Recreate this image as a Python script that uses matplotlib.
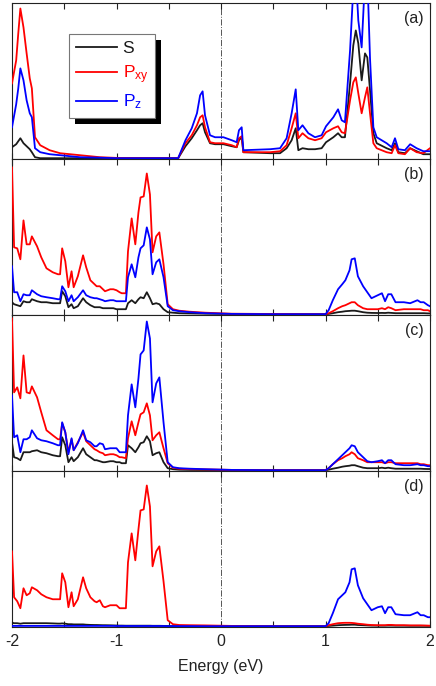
import matplotlib
matplotlib.use("Agg")
import matplotlib.pyplot as plt
from matplotlib.ticker import MultipleLocator, FixedLocator
from matplotlib.lines import Line2D
from matplotlib.patches import Rectangle

plt.rcParams['font.family'] = ['Liberation Sans', 'DejaVu Sans']
plt.rcParams['axes.unicode_minus'] = False
plt.rcParams['mathtext.default'] = 'regular'

# ---------------- data (arbitrary DOS units) ----------------
labels = ['S', r'P$_{xy}$', r'P$_{z}$']
colors = ['#1a1a1a', '#ff0000', '#0000ff']
panel_tags = ['(a)', '(b)', '(c)', '(d)']
x_ticks = [-2, -1, 0, 1, 2]

# panel (a)
energy_a = [-2.00, -1.96, -1.94, -1.92, -1.89, -1.86, -1.83, -1.81, -1.78, -1.73,
            -1.64, -1.54, -1.35, -1.16, -1.00, -0.41, -0.34, -0.28, -0.23, -0.20,
            -0.176, -0.153, -0.105, -0.057, 0.023, 0.103, 0.15, 0.172, 0.198, 0.214,
            0.47, 0.565, 0.628, 0.676, 0.715, 0.74, 0.78, 0.836, 0.90, 0.963,
            1.005, 1.075, 1.12, 1.155, 1.186, 1.235, 1.266, 1.29, 1.314, 1.346,
            1.378, 1.40, 1.426, 1.458, 1.49, 1.585, 1.633, 1.665, 1.697, 1.76,
            1.81, 1.872, 1.936, 2.00]
a_s = [11, 14, 17, 20, 15, 12, 9, 6, 1, 0,
       0, 0, 0, 0, 0, 0, 12, 20, 28, 33,
       35, 26, 15, 14, 14, 12, 11, 18, 21, 6,
       5, 5, 10, 18, 30, 8, 10, 9, 9, 10,
       16, 21, 25, 21, 21, 75, 113, 128, 115, 78,
       105, 101, 68, 25, 15, 10, 8, 15, 6, 5,
       10, 7, 4, 4]
a_pxy = [75, 98, 125, 150, 131, 105, 80, 70, 21, 13,
         8, 5, 3, 1, 0.3, 0, 15, 23, 33, 41,
         43, 31, 16, 15, 15, 13, 11, 20, 22, 6,
         6, 7, 13, 30, 45, 20, 25, 20, 18, 20,
         26, 30, 32, 26, 25, 58, 76, 81, 65, 45,
         61, 71, 45, 15, 10, 6, 5, 13, 5, 4,
         10, 6, 5, 10]
a_pz = [31, 54, 70, 90, 78, 58, 45, 41, 10, 6,
        4, 3, 1, 0.5, 0, 0, 18, 30, 45, 63,
        67, 43, 23, 21, 21, 18, 16, 28, 31, 8,
        9, 10, 20, 45, 69, 28, 33, 25, 21, 23,
        32, 41, 49, 38, 36, 108, 170, 185, 138, 111,
        180, 185, 100, 31, 21, 15, 11, 20, 9, 8,
        14, 10, 7, 7]

# panels (b)-(d): valence part
energy_vb = [-2.00, -1.98, -1.95, -1.92, -1.89, -1.86, -1.83, -1.81, -1.76, -1.72,
             -1.67, -1.61, -1.56, -1.54, -1.52, -1.49, -1.46, -1.43, -1.41, -1.37,
             -1.32, -1.29, -1.25, -1.21, -1.19, -1.16, -1.13, -1.11, -1.06, -1.03,
             -1.00, -0.97, -0.95, -0.91, -0.89, -0.855, -0.82, -0.79, -0.77, -0.74,
             -0.71, -0.68, -0.655, -0.62, -0.59, -0.55, -0.51, -0.46, -0.40, -0.30,
             -0.15, 0.10, 0.50]
# conduction part
energy_cb = [1.00, 1.03, 1.07, 1.12, 1.16, 1.19, 1.23, 1.25, 1.28, 1.31,
             1.36, 1.40, 1.44, 1.50, 1.54, 1.57, 1.60, 1.63, 1.67, 1.75,
             1.81, 1.88, 1.91, 1.94, 1.98, 2.00]

b_s_vb = [12, 10, 9, 8, 13, 12, 12, 15, 13, 12,
          12, 11, 11, 11, 23, 18, 7, 10, 6, 8,
          16, 12, 9, 7, 7, 7, 6, 6, 6, 6,
          5, 5, 5, 5, 11, 14, 11, 15, 17, 16,
          22, 16, 10, 11, 10, 5, 2, 1.5, 1, 0.8,
          0.5, 0.2, 0]
b_pxy_vb = [147, 67, 66, 55, 94, 70, 70, 78, 68, 57,
            46, 42, 40, 40, 66, 53, 27, 43, 27, 38,
            59, 47, 34, 30, 28, 28, 25, 23, 25, 25,
            24, 22, 21, 21, 63, 96, 70, 102, 117, 118,
            141, 120, 62, 78, 82, 50, 10, 5, 3.5, 2.5,
            1.5, 0.5, 0.2]
b_pz_vb = [48, 22, 22, 13, 20, 19, 19, 24, 20, 18,
           17, 16, 15, 15, 28, 23, 13, 19, 13, 17,
           24, 19, 17, 16, 16, 15, 14, 13, 14, 14,
           13, 13, 13, 13, 37, 50, 37, 57, 66, 69,
           87, 75, 40, 52, 55, 37, 8, 4, 3, 2,
           1, 0.3, 0]
b_s_cb = [0, 0.3, 1, 2, 2.5, 3, 3.3, 3.5, 3.5, 3, 2, 1.5, 1.3, 1.2, 1.3, 1.2,
          1.5, 1.3, 1, 1, 1, 1, 1, 1, 0.8, 0.8]
b_pxy_cb = [0, 1, 3, 6, 8, 9, 11, 12, 12, 9, 6, 5, 5, 5, 6, 5, 7, 6, 4, 5,
            5, 5, 5, 4, 4, 3]
b_pz_cb = [0, 4, 14, 25, 30, 34, 44, 55, 56, 38, 28, 22, 16, 19, 21, 13, 20, 20,
           12, 12, 11, 14, 12, 12, 9, 8]

c_s_vb = [28, 13, 12, 10, 18, 18, 18, 19, 20, 18,
          17, 15, 14, 14, 33, 25, 8, 13, 9, 13,
          22, 16, 13, 10, 10, 9, 8, 8, 9, 9,
          8, 8, 7, 7, 25, 22, 18, 23, 27, 28,
          34, 29, 15, 17, 18, 8, 2, 1, 0.5, 0.3,
          0.2, 0.1, 0]
c_pxy_vb = [152, 78, 83, 72, 115, 78, 77, 84, 73, 58,
            40, 35, 31, 31, 47, 38, 18, 31, 20, 28,
            38, 29, 25, 21, 20, 18, 17, 15, 16, 16,
            15, 13, 13, 12, 32, 49, 35, 48, 56, 58,
            67, 55, 30, 35, 38, 22, 7, 2.5, 1.5, 1,
            0.8, 0.3, 0]
c_pz_vb = [75, 33, 35, 18, 31, 31, 33, 40, 32, 30,
           29, 27, 25, 25, 48, 38, 16, 32, 20, 27,
           40, 30, 28, 24, 24, 27, 26, 21, 22, 22,
           22, 18, 18, 18, 55, 86, 63, 92, 116, 120,
           149, 132, 68, 87, 93, 48, 8, 3, 2, 1.5,
           1, 0.3, 0]
c_s_cb = [0, 0.5, 1.5, 2.5, 3.5, 4, 4.5, 5, 5, 4, 2.5, 2, 2, 2, 2.5, 2, 2.5, 2,
          1.5, 1.5, 1.5, 1.5, 1.5, 1.3, 1.2, 1.2]
c_pxy_cb = [0, 2, 6, 10, 12, 14, 16, 18, 16, 12, 10, 8, 8, 8, 8, 7, 8, 8, 7, 7,
            7, 7, 6, 6, 5, 5]
c_pz_cb = [0, 2, 6, 11, 15, 18, 22, 25, 24, 18, 13, 9, 8, 9, 10, 7, 10, 10, 6,
           5, 5, 6, 5, 5, 4, 4]

d_s_vb = [3.5, 3, 3, 2.5, 3, 3, 3, 3, 3, 3,
          3, 2.8, 2.6, 2.6, 2.8, 2.5, 2, 2, 1.8, 1.8,
          1.8, 1.5, 1.3, 1.2, 1.2, 1.1, 1, 1, 0.9, 0.8,
          0.7, 0.6, 0.6, 0.5, 0.5, 0.5, 0.5, 0.5, 0.5, 0.5,
          0.5, 0.5, 0.4, 0.4, 0.4, 0.3, 0.2, 0.1, 0.1, 0.1,
          0, 0, 0]
d_pxy_vb = [75, 29, 25, 18, 38, 31, 33, 39, 36, 32,
            29, 27, 27, 27, 53, 44, 19, 34, 20, 27,
            49, 38, 29, 25, 24, 26, 20, 19, 21, 21,
            21, 18, 18, 18, 64, 93, 66, 97, 116, 117,
            141, 120, 60, 75, 80, 45, 6, 2, 1.2, 1,
            0.8, 0.3, 0]
d_pz_vb = [0.3, 0.3, 0.3, 0.3, 0.3, 0.3, 0.3, 0.3, 0.3, 0.3,
           0.3, 0.3, 0.3, 0.3, 0.3, 0.3, 0.3, 0.3, 0.3, 0.3,
           0.3, 0.3, 0.3, 0.3, 0.3, 0.3, 0.3, 0.3, 0.3, 0.3,
           0.2, 0.2, 0.2, 0.2, 0.2, 0.2, 0.2, 0.2, 0.2, 0.2,
           0.2, 0.2, 0.2, 0.2, 0.2, 0.2, 0.1, 0.1, 0.1, 0.1,
           0, 0, 0]
d_s_cb = [0, 0.3, 0.6, 1, 1.2, 1.3, 1.4, 1.5, 1.5, 1.2, 1, 0.8, 0.6, 0.5, 0.5,
          0.5, 0.6, 0.6, 0.5, 0.5, 0.4, 0.4, 0.4, 0.4, 0.3, 0.3]
d_pxy_cb = [0, 1, 2, 3, 3.3, 3.4, 3.4, 3.3, 3, 2.5, 2, 1.5, 1.2, 1, 1, 1, 1.3,
            1.3, 1, 1, 0.8, 0.8, 0.8, 0.7, 0.6, 0.5]
d_pz_cb = [0, 3, 13, 27, 31, 34, 44, 57, 58, 41, 28, 22, 16, 19, 20, 13, 19, 19,
           12, 11, 11, 14, 11, 11, 9, 9]

# ---------------- figure ----------------
fig = plt.figure(figsize=(4.36, 6.86), dpi=100)
left, right = 12 / 436, 430 / 436
bottom, top = 1 - 627 / 686, 1 - 3 / 686
h = (top - bottom) / 4

energy_bcd = energy_vb + energy_cb
panels = [
    [(energy_a, a_s), (energy_a, a_pxy), (energy_a, a_pz)],
    [(energy_bcd, b_s_vb + b_s_cb), (energy_bcd, b_pxy_vb + b_pxy_cb), (energy_bcd, b_pz_vb + b_pz_cb)],
    [(energy_bcd, c_s_vb + c_s_cb), (energy_bcd, c_pxy_vb + c_pxy_cb), (energy_bcd, c_pz_vb + c_pz_cb)],
    [(energy_bcd, d_s_vb + d_s_cb), (energy_bcd, d_pxy_vb + d_pxy_cb), (energy_bcd, d_pz_vb + d_pz_cb)],
]

axes = []
for i, series in enumerate(panels):
    ax = fig.add_axes([left, top - (i + 1) * h, right - left, h])
    axes.append(ax)
    for (ex, ey), c in zip(series, colors):
        ax.plot(ex, ey, color=c, lw=1.3, zorder=3)
    ax.axvline(0, color='#555555', lw=0.7, ls='-.', zorder=1)
    ax.set_xlim(-2, 2)
    ax.set_ylim(-0.8, 155.5)
    ax.set_yticks([])
    ax.xaxis.set_major_locator(FixedLocator(x_ticks))
    ax.xaxis.set_minor_locator(MultipleLocator(0.5))
    ax.tick_params(axis='x', which='both', direction='in', top=True, bottom=True,
                   length=4, width=0.8, labelsize=11.5, pad=5, colors='#222222')
    for sp in ax.spines.values():
        sp.set_linewidth(0.8)
        sp.set_color('#222222')
    if i < 3:
        ax.tick_params(axis='x', labelbottom=False)
    ax.text(0.985, 0.9, panel_tags[i], transform=ax.transAxes, ha='right',
            va='center', fontsize=11.5, color='#222222')

axes[-1].set_xlabel('Energy (eV)', fontsize=11.5, labelpad=7, color='#222222')

# legend in panel (a) with solid black shadow
ax = axes[0]
handles = [Line2D([], [], color=c, lw=1.3) for c in colors]
leg = ax.legend(handles, labels, loc='upper left', bbox_to_anchor=(0.136, 0.80),
                borderaxespad=0, fontsize=12.5, frameon=True, fancybox=False,
                framealpha=1, facecolor='white',
                edgecolor='#777777', handlelength=2.4, handletextpad=0.3,
                labelspacing=0.4, borderpad=0.4, labelcolor='linecolor')
leg.get_frame().set_linewidth(0.8)
leg.set_zorder(6)
fig.canvas.draw()
bb = leg.get_frame().get_window_extent(fig.canvas.get_renderer())
inv = ax.transAxes.inverted()
(x0, y0) = inv.transform((bb.x0 + 6, bb.y0 - 6))
(x1, y1) = inv.transform((bb.x1 + 6, bb.y1 - 6))
ax.add_patch(Rectangle((x0, y0), x1 - x0, y1 - y0, transform=ax.transAxes,
                       facecolor='black', edgecolor='none', zorder=5, clip_on=False))

fig.savefig('out.png', dpi=100)
